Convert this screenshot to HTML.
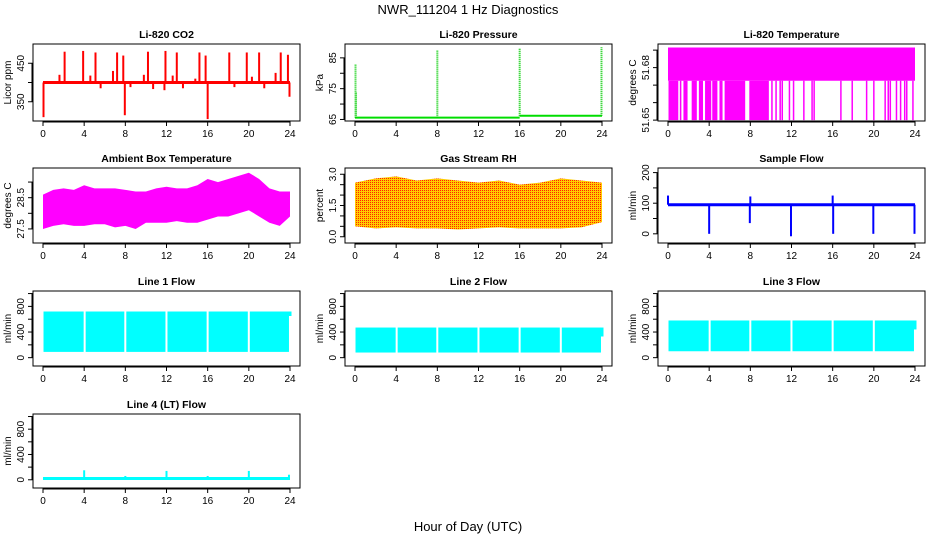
<!DOCTYPE html>
<html><head><meta charset="utf-8">
<style>
html,body{margin:0;padding:0;background:#fff;}
svg{display:block;font-family:"Liberation Sans",sans-serif;}
</style></head>
<body>
<svg id="chart" width="936" height="540" viewBox="0 0 936 540" xmlns="http://www.w3.org/2000/svg">
<defs>
<pattern id="rhpat" width="2" height="2" patternUnits="userSpaceOnUse">
<rect width="2" height="2" fill="#ffcc00"/><rect width="1" height="1" fill="#ff2200"/>
</pattern>
</defs>
<text x="468" y="14" text-anchor="middle" font-size="13">NWR_111204  1 Hz Diagnostics</text>
<text x="468" y="531" text-anchor="middle" font-size="13">Hour of Day (UTC)</text>
</svg>
<script>
// ---- data ----
const hourTicks = [0,4,8,12,16,20,24];
// CO2
const co2Base = 400;
const co2SpikeHours = [0.05,1.6,2.1,3.9,4.6,5.1,5.6,6.8,7.2,7.8,7.95,8.5,9.8,10.2,10.7,11.8,11.9,12.6,13.0,13.6,14.8,15.2,15.8,16.0,18.1,18.6,19.8,20.3,21.0,21.5,22.6,23.1,23.8,23.95];
const co2SpikeValues = [310,420,480,482,418,478,385,430,478,470,315,388,420,480,383,380,482,418,478,385,410,478,470,305,478,388,478,415,478,385,425,478,472,363];
// Pressure
const presBase1 = 65.6, presBase2 = 66.2;
const presSpikeHours = [0.05,0.1,8.0,16.0,23.95];
const presSpikeValues = [83,74,87.5,88,88.5];
// Li-820 temperature
const tempTop = 51.6915, tempMid = 51.6725, tempLow = 51.65;
const tempSolidRanges = [[0.05,1.0],[1.15,1.3],[1.5,1.9],[2.3,2.8],[3.0,3.4],[3.6,4.2],[4.3,4.8],[5.0,5.3],[5.5,7.5],[7.9,9.8]];
const tempSparseHours = [10.1,10.5,10.9,11.1,11.8,12.2,13.2,14.0,14.2,16.8,17.9,19.3,20.0,21.1,21.4,21.6,22.2,22.6,23.0,23.2,23.8];
// Ambient box temperature envelope (hourly)
const ambHours = [0,1,2,3,4,5,6,7,8,9,10,11,12,13,14,15,16,17,18,19,20,21,22,23,24];
const ambUpper = [28.6,28.75,28.8,28.75,28.9,28.8,28.8,28.8,28.75,28.7,28.7,28.8,28.85,28.8,28.8,28.9,29.1,29.0,29.1,29.2,29.3,29.1,28.8,28.7,28.7];
const ambLower = [27.5,27.6,27.65,27.6,27.6,27.65,27.65,27.55,27.6,27.5,27.7,27.7,27.7,27.75,27.7,27.7,27.8,27.9,27.9,28.0,28.1,27.9,27.7,27.6,27.9];
// Gas stream RH envelope
const rhHours = [0,2,4,6,8,10,12,14,16,18,20,22,24];
const rhUpper = [2.6,2.8,2.9,2.7,2.8,2.7,2.6,2.7,2.5,2.6,2.8,2.7,2.6];
const rhLower = [0.5,0.4,0.45,0.4,0.4,0.35,0.4,0.45,0.4,0.4,0.4,0.45,0.7];
// Sample flow
const sfBase = 95;
const sfSpikeHours = [0.0,4.0,7.95,8.0,11.95,16.0,16.05,19.95,23.95];
const sfSpikeValues = [125,0,35,122,-8,125,0,0,0];
// Line flows
const flowGapHours = [3.95,7.9,11.9,15.9,19.9];
const line1Upper = 720, line1Lower = 90, line1End = 650;
const line2Upper = 470, line2Lower = 80, line2End = 330;
const line3Upper = 580, line3Lower = 100, line3End = 440;
const line4Base = 20;
const line4SpikeHours = [4.0,8.0,12.0,16.0,20.0,23.9];
const line4SpikeValues = [150,60,140,60,140,80];

// ---- helpers ----
const svg = document.getElementById('chart');
const NS = 'http://www.w3.org/2000/svg';
function mk(tag, attrs, parent){
  const e = document.createElementNS(NS, tag);
  for (const k in attrs) e.setAttribute(k, attrs[k]);
  (parent||svg).appendChild(e);
  return e;
}
const colX = [33,345,658];
const rowY = [[44,121],[168,243],[291,366],[414,488]];
const boxW = 267;

function panel(col,row,title,ylab,ymin,ymax,yTicks,yLabels,name){
  const g = mk('g',{});
  
  
  const x0 = colX[col], x1 = x0+boxW, y0 = rowY[row][0], y1 = rowY[row][1];
  const xs = h => x0+10 + (h/24)*(boxW-20);
  const ys = v => y1 - (v-ymin)/(ymax-ymin)*(y1-y0);
  const t = mk('text',{x:(x0+x1)/2,y:y0-6,'text-anchor':'middle','font-size':'10.5','font-weight':'bold'},g);
  t.textContent = title;
  
  
  const plot = mk('g',{},g);
  const xa = mk('g',{},g);
  
  
  mk('line',{x1:xs(0),x2:xs(24),y1:y1+1,y2:y1+1,stroke:'#000'},xa);
  hourTicks.forEach(h=>{
    mk('line',{x1:xs(h),x2:xs(h),y1:y1,y2:y1+5,stroke:'#000'},xa);
    const l = mk('text',{x:xs(h),y:y1+16,'text-anchor':'middle','font-size':'10'},xa);
    l.textContent = h;
  });
  const ya = mk('g',{},g);
  
  
  mk('line',{x1:x0-1,x2:x0-1,y1:ys(yTicks[0]),y2:ys(yTicks[yTicks.length-1]),stroke:'#000'},ya);
  yTicks.forEach(v=>{
    mk('line',{x1:x0-5,x2:x0,y1:ys(v),y2:ys(v),stroke:'#000'},ya);
  });
  yLabels.forEach(v=>{
    const l = mk('text',{x:0,y:0,'text-anchor':'middle','font-size':'10',transform:`translate(${x0-9},${ys(v)}) rotate(-90)`},ya);
    l.textContent = v;
  });
  const yl = mk('text',{x:0,y:0,'text-anchor':'middle','font-size':'10',transform:`translate(${x0-22},${(y0+y1)/2}) rotate(-90)`},g);
  yl.textContent = ylab;
  
  
  mk('rect',{x:x0,y:y0,width:boxW,height:y1-y0,fill:'none',stroke:'#000'},g);
  return {xs,ys,plot};
}
function vline(p,h,a,b,color,w){
  return mk('line',{x1:p.xs(h),x2:p.xs(h),y1:p.ys(a),y2:p.ys(b),stroke:color,'stroke-width':w||1.5},p.plot);
}
function band(p,hours,up,lo,fill){
  let d='';
  hours.forEach((h,i)=>{d+=(i?'L':'M')+p.xs(h)+','+p.ys(up[i]);});
  for(let i=hours.length-1;i>=0;i--) d+='L'+p.xs(hours[i])+','+p.ys(lo[i]);
  return mk('path',{d:d+'Z',fill:fill},p.plot);
}

// CO2
{
  const p = panel(0,0,'Li-820 CO2','Licor ppm',300,500,[350,400,450],[350,450],'co2');
  co2SpikeHours.forEach((h,i)=>{const l=vline(p,h,co2Base,co2SpikeValues[i],'#ff0000',2);
    
    });
  const b = mk('line',{x1:p.xs(0),x2:p.xs(24),y1:p.ys(co2Base),y2:p.ys(co2Base),stroke:'#ff0000','stroke-width':3},p.plot);
  
  
}
// Pressure
{
  const p = panel(1,0,'Li-820 Pressure','kPa',64.5,89.5,[65,70,75,80,85],[65,75,85],'pressure');
  mk('line',{x1:p.xs(0),x2:p.xs(16),y1:p.ys(presBase1),y2:p.ys(presBase1),stroke:'#00dd00','stroke-width':2},p.plot);
  mk('line',{x1:p.xs(16),x2:p.xs(24),y1:p.ys(presBase2),y2:p.ys(presBase2),stroke:'#00dd00','stroke-width':2},p.plot);
  presSpikeHours.forEach((h,i)=>{
    const base = h<16?presBase1:presBase2;
    const l = vline(p,h,base,presSpikeValues[i],'#00cc00',2);
    l.setAttribute('stroke-dasharray','1,1');
    
    
  });
}
// Li-820 temp
{
  const p = panel(2,0,'Li-820 Temperature','degrees C',51.6495,51.6935,[51.65,51.66,51.67,51.68,51.69],[51.65,51.68],'li820-temp');
  const top = mk('rect',{x:p.xs(0),y:p.ys(tempTop),width:p.xs(24)-p.xs(0),height:p.ys(tempMid)-p.ys(tempTop),fill:'#ff00ff'},p.plot);
  
  
  tempSolidRanges.forEach(r=>{
    mk('rect',{x:p.xs(r[0]),y:p.ys(tempMid),width:p.xs(r[1])-p.xs(r[0]),height:p.ys(tempLow)-p.ys(tempMid),fill:'#ff00ff'},p.plot);
  });
  tempSparseHours.forEach(h=>vline(p,h,tempLow,tempMid,'#ff00ff',1.5));
}
// Ambient
{
  const p = panel(0,1,'Ambient Box Temperature','degrees C',27.05,29.45,[27.5,28,28.5,29],[27.5,28.5],'ambient-temp');
  const b = band(p,ambHours,ambUpper,ambLower,'#ff00ff');
  
  
}
// RH
{
  const p = panel(1,1,'Gas Stream RH','percent',-0.3,3.3,[0,0.5,1,1.5,2,2.5,3],['0.0','1.5','3.0'],'rh');
  const b = band(p,rhHours,rhUpper,rhLower,'url(#rhpat)');
  
  
}
// Sample flow
{
  const p = panel(2,1,'Sample Flow','ml/min',-30,215,[0,50,100,150,200],[0,100,200],'sample-flow');
  mk('line',{x1:p.xs(0),x2:p.xs(24),y1:p.ys(sfBase),y2:p.ys(sfBase),stroke:'#0000ff','stroke-width':3},p.plot);
  sfSpikeHours.forEach((h,i)=>{const l=vline(p,h,sfBase,sfSpikeValues[i],'#0000ff',2);
    
    });
}
// Line flows
function flowPanel(col,row,title,up,lo,end,name){
  const p = panel(col,row,title,'ml/min',-130,1040,[0,200,400,600,800,1000],[0,400,800],name);
  const r = mk('rect',{x:p.xs(0.05),y:p.ys(up),width:p.xs(23.9)-p.xs(0.05),height:p.ys(lo)-p.ys(up),fill:'#00ffff'},p.plot);
  
  
  flowGapHours.forEach(h=>{
    mk('rect',{x:p.xs(h),y:p.ys(up)-2,width:2,height:p.ys(lo)-p.ys(up)+3,fill:'#fff'},p.plot);
  });
  vline(p,24,up,end,'#00ffff',3);
}
flowPanel(0,2,'Line 1 Flow',line1Upper,line1Lower,line1End,'line1-flow');
flowPanel(1,2,'Line 2 Flow',line2Upper,line2Lower,line2End,'line2-flow');
flowPanel(2,2,'Line 3 Flow',line3Upper,line3Lower,line3End,'line3-flow');
{
  const p = panel(0,3,'Line 4 (LT) Flow','ml/min',-130,1040,[0,200,400,600,800,1000],[0,400,800],'line4-flow');
  mk('line',{x1:p.xs(0),x2:p.xs(24),y1:p.ys(line4Base),y2:p.ys(line4Base),stroke:'#00ffff','stroke-width':3},p.plot);
  line4SpikeHours.forEach((h,i)=>{const l=vline(p,h,line4Base,line4SpikeValues[i],'#00ffff',2);
    
    });
}
</script>
</body></html>
